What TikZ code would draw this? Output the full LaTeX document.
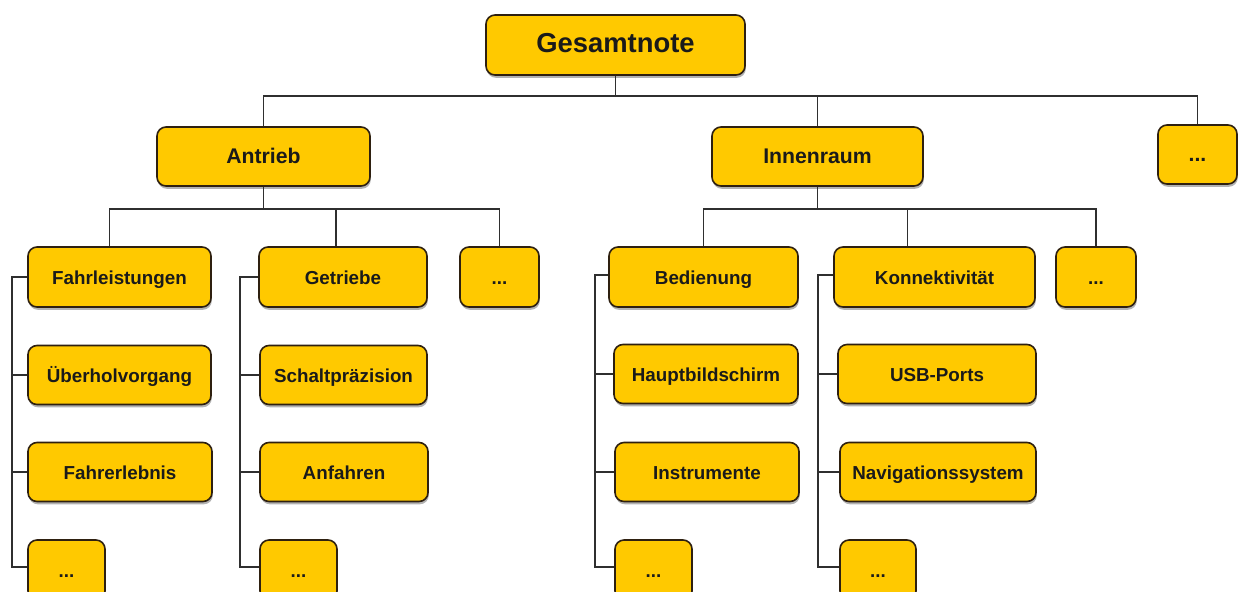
\documentclass[tikz,border=0pt]{standalone}
\usepackage{fontspec}
\setmainfont{Liberation Sans}
\usetikzlibrary{shadows,calc}
\definecolor{boxfill}{HTML}{FFC900}
\definecolor{boxline}{HTML}{2E2010}
\definecolor{conn}{HTML}{2F2F2F}
\definecolor{txt}{HTML}{1A1A1A}
\begin{document}
\begin{tikzpicture}[x=0.5pt,y=-0.5pt,
  box/.style={draw=boxline,line width=0.8pt,fill=boxfill,rounded corners=4.5pt,
    inner sep=0pt,text=txt,text height=0.72em,text depth=0pt,
    font=\bfseries\fontsize{9.4}{11}\selectfont,
    drop shadow={shadow xshift=0.4pt,shadow yshift=-1.4pt,opacity=0.3,fill=black}},
  topbox/.style={box,font=\bfseries\fontsize{13.7}{16}\selectfont},
  midbox/.style={box,font=\bfseries\fontsize{10.6}{13}\selectfont},
  conn/.style={draw=conn,line width=0.7pt}]
\useasboundingbox (0,0) rectangle (1239,591);
\fill[white] (0,0) rectangle (1239,591);
% level 0
\node[topbox,minimum width=129.5pt,minimum height=30pt] (g) at (615.5,45) {Gesamtnote};
% level 1
\node[midbox,minimum width=106.5pt,minimum height=29.5pt] (a) at (263.5,156.5) {Antrieb};
\node[midbox,minimum width=105.5pt,minimum height=29.5pt] (i) at (817.5,156.5) {Innenraum};
\node[midbox,minimum width=39.5pt,minimum height=29.5pt] (d0) at (1197.5,154.5) {...};
% level 2, row 1
\node[box,minimum width=91.5pt,minimum height=30pt] (fl) at (119.5,277) {Fahrleistungen};
\node[box,minimum width=84pt,minimum height=30pt] (ge) at (343,277) {Getriebe};
\node[box,minimum width=39.5pt,minimum height=30pt] (da) at (499.5,277) {...};
\node[box,minimum width=94.5pt,minimum height=30pt] (be) at (703.5,277) {Bedienung};
\node[box,minimum width=100.5pt,minimum height=30pt] (ko) at (934.5,277) {Konnektivität};
\node[box,minimum width=40pt,minimum height=30pt] (di) at (1096,277) {...};
% row 2
\node[box,minimum width=91.5pt,minimum height=29.5pt] (ub) at (119.5,375) {Überholvorgang};
\node[box,minimum width=83.5pt,minimum height=29.5pt] (sp) at (343.5,375) {Schaltpräzision};
\node[box,minimum width=92pt,minimum height=29.5pt] (hb) at (706,374) {Hauptbildschirm};
\node[box,minimum width=99pt,minimum height=29.5pt] (us) at (937,374) {USB-Ports};
% row 3
\node[box,minimum width=92pt,minimum height=29.5pt] (fe) at (120,472) {Fahrerlebnis};
\node[box,minimum width=84pt,minimum height=29.5pt] (an) at (344,472) {Anfahren};
\node[box,minimum width=92pt,minimum height=29.5pt] (in) at (707,472) {Instrumente};
\node[box,minimum width=98pt,minimum height=29.5pt] (na) at (938,472) {Navigationssystem};
% row 4
\node[box,minimum width=38.5pt,minimum height=30pt] (f4) at (66.5,570) {...};
\node[box,minimum width=38.5pt,minimum height=30pt] (g4) at (298.5,570) {...};
\node[box,minimum width=38.5pt,minimum height=30pt] (b4) at (653.5,570) {...};
\node[box,minimum width=38pt,minimum height=30pt] (k4) at (878,570) {...};
% bus coordinates
\coordinate (b0) at (613,96);
\coordinate (b1) at (263,209);
\coordinate (b2) at (818,209);
\coordinate (c1) at (12,0);
\coordinate (c2) at (240,0);
\coordinate (c3) at (595,0);
\coordinate (c4) at (818,0);
% level 0 -> 1
\draw[conn] (g.south) -- (g.south |- b0);
\draw[conn] (a.north) -- (a.north |- b0) -| (d0.north);
\draw[conn] (i.north) -- (i.north |- b0);
% Antrieb -> children
\draw[conn] (a.south) -- (a.south |- b1);
\draw[conn] ([xshift=-5pt]fl.north) -- ([xshift=-5pt]fl.north |- b1) -| (da.north);
\draw[conn] ([xshift=-3.5pt]ge.north) -- ([xshift=-3.5pt]ge.north |- b1);
% Innenraum -> children
\draw[conn] (i.south) -- (i.south |- b2);
\draw[conn] (be.north) -- (be.north |- b2) -| (di.north);
\draw[conn] ([xshift=-13.5pt]ko.north) -- ([xshift=-13.5pt]ko.north |- b2);
% brackets
\draw[conn] (fl.west) -- (fl.west -| c1) -- ([yshift=1.5pt]f4.west -| c1) -- ([yshift=1.5pt]f4.west);
\draw[conn] (ub.west) -- (ub.west -| c1);
\draw[conn] (fe.west) -- (fe.west -| c1);
\draw[conn] (ge.west) -- (ge.west -| c2) -- ([yshift=1.5pt]g4.west -| c2) -- ([yshift=1.5pt]g4.west);
\draw[conn] (sp.west) -- (sp.west -| c2);
\draw[conn] (an.west) -- (an.west -| c2);
\draw[conn] ([yshift=1pt]be.west) -- ([yshift=1pt]be.west -| c3) -- ([yshift=1.5pt]b4.west -| c3) -- ([yshift=1.5pt]b4.west);
\draw[conn] (hb.west) -- (hb.west -| c3);
\draw[conn] (in.west) -- (in.west -| c3);
\draw[conn] ([yshift=1pt]ko.west) -- ([yshift=1pt]ko.west -| c4) -- ([yshift=1.5pt]k4.west -| c4) -- ([yshift=1.5pt]k4.west);
\draw[conn] (us.west) -- (us.west -| c4);
\draw[conn] (na.west) -- (na.west -| c4);
\end{tikzpicture}
\end{document}
